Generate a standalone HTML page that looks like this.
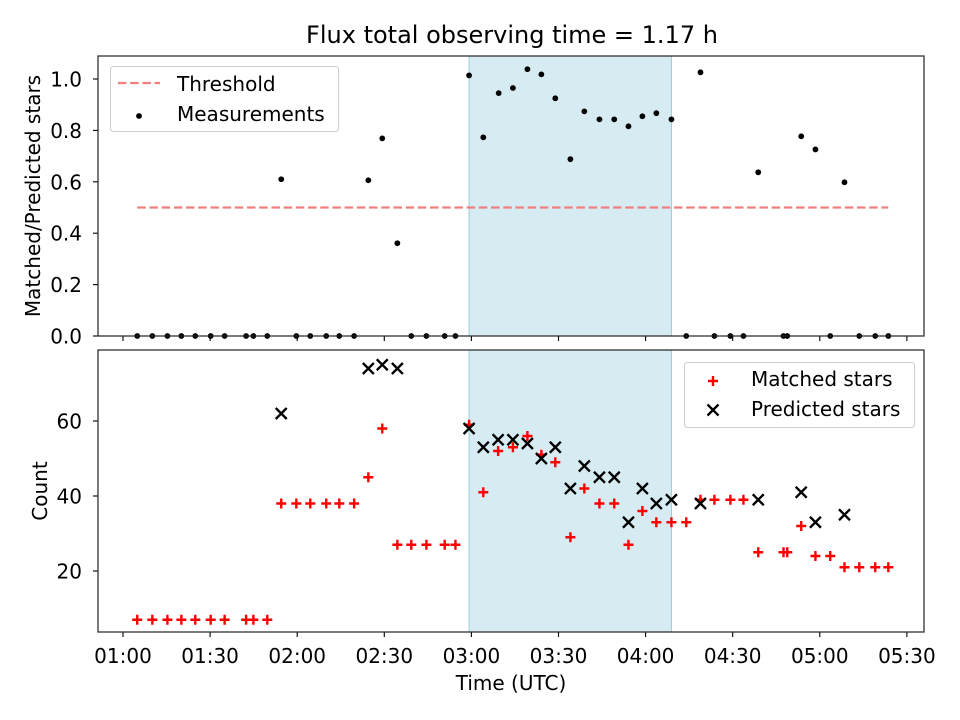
<!DOCTYPE html>
<html><head><meta charset="utf-8"><style>
body{margin:0;background:#fff}
svg{display:block;font-family:"DejaVu Sans","Liberation Sans",sans-serif}
</style></head><body>
<svg id="chart" width="960" height="720" viewBox="0 0 960 720">
<rect width="960" height="720" fill="#fff"/>
<text x="512" y="43" font-size="24" text-anchor="middle">Flux total observing time = 1.17 h</text>
<g id="gtop"></g><g id="gbot"></g>
<text transform="translate(40,196) rotate(-90)" font-size="20" text-anchor="middle">Matched/Predicted stars</text>
<text transform="translate(47,491) rotate(-90)" font-size="20" text-anchor="middle">Count</text>
<text x="511" y="690" font-size="20" text-anchor="middle">Time (UTC)</text>
</svg>
<script>
// minutes since 01:00 UTC
const ratioTimes=[4.9,10.1,15.3,20.1,24.9,30.2,35.0,42.4,44.9,49.7,54.5,59.7,64.5,70.0,74.5,79.6,84.5,89.3,94.5,99.3,104.5,110.8,114.5,119.2,124.1,129.4,134.3,139.3,144.1,148.9,154.1,158.9,164.1,169.2,174.1,178.9,183.7,188.9,194.0,198.9,203.7,209.2,213.7,218.8,227.5,228.8,233.6,238.5,243.6,248.5,253.6,259.1,263.6];
const ratioValues=[0,0,0,0,0,0,0,0,0,0,0.61,0,0,0,0,0,0.606,0.769,0.361,0,0,0,0,1.014,0.773,0.945,0.965,1.038,1.018,0.925,0.688,0.874,0.843,0.843,0.816,0.855,0.867,0.843,0,1.026,0,0,0,0.637,0,0,0.777,0.726,0,0.598,0,0,0];
const matchedTimes=[4.9,10.1,15.3,20.1,24.9,30.2,35.0,42.4,44.9,49.7,54.5,59.7,64.5,70.0,74.5,79.6,84.5,89.3,94.5,99.3,104.5,110.8,114.5,119.2,124.1,129.2,134.3,139.3,144.1,148.9,154.1,158.9,164.1,169.2,174.1,178.9,183.7,188.9,194.0,198.9,203.7,209.2,213.7,218.8,227.5,228.8,233.6,238.5,243.6,248.5,253.6,259.1,263.6];
const matchedValues=[7,7,7,7,7,7,7,7,7,7,38,38,38,38,38,38,45,58,27,27,27,27,27,59,41,52,53,56,51,49,29,42,38,38,27,36,33,33,33,39,39,39,39,25,25,25,32,24,24,21,21,21,21];
const predTimes=[54.5,84.5,89.3,94.5,119.2,124.1,129.2,134.3,139.3,144.1,148.9,154.1,158.9,164.1,169.2,174.1,178.9,183.7,188.9,198.9,218.8,233.6,238.5,248.5];
const predValues=[62,74,75,74,58,53,55,55,54,50,53,42,48,45,45,33,42,38,39,38,39,41,33,35];
const spanStartEnd=[119.2,188.9];
const threshold=0.5;
const thresholdRange=[4.9,263.6];
const xTickLabels=["01:00","01:30","02:00","02:30","03:00","03:30","04:00","04:30","05:00","05:30"];
const topYTicks=[0,0.2,0.4,0.6,0.8,1.0];
const botYTicks=[20,40,60];

const NS="http://www.w3.org/2000/svg";
const L=98,R=924,T1=56,B1=336,T2=350,B2=632;
const FS=20;
const x=m=>123+m*2.9033;
const yTop=v=>336-v*257;
const yBot=v=>571-(v-20)*3.75;
function el(tag,attrs,parent,txt){const e=document.createElementNS(NS,tag);for(const k in attrs)e.setAttribute(k,attrs[k]);if(txt!==undefined)e.textContent=txt;parent.appendChild(e);return e;}
const gTop=document.getElementById('gtop'),gBot=document.getElementById('gbot');

function frame(g,T,B,name){
  const sp=el('rect',{x:x(spanStartEnd[0]),y:T,width:x(spanStartEnd[1])-x(spanStartEnd[0]),height:B-T,fill:'#add8e6','fill-opacity':0.5,stroke:'#9ccbdb','stroke-width':1},g);
  
  
  xTickLabels.forEach((lab,i)=>{const px=x(i*30);
    el('line',{x1:px,x2:px,y1:B,y2:B+5,stroke:'#000','stroke-width':1.1},g);
    if(name==='bottom'){const t=el('text',{x:px,y:B+31,'font-size':FS,'text-anchor':'middle'},g,lab);
      
      }
  });
}
frame(gTop,T1,B1,'top');frame(gBot,T2,B2,'bottom');

const th=el('line',{x1:x(thresholdRange[0]),x2:x(thresholdRange[1]),y1:yTop(threshold),y2:yTop(threshold),stroke:'#f08080','stroke-width':2.3,'stroke-dasharray':'8.5,3.7'},gTop);


ratioTimes.forEach((t,i)=>{const c=el('circle',{cx:x(t),cy:yTop(ratioValues[i]),r:2.9,fill:'#000'},gTop);
  
  });
topYTicks.forEach(v=>{const py=yTop(v);el('line',{x1:L-5,x2:L,y1:py,y2:py,stroke:'#000','stroke-width':1.1},gTop);
  const t=el('text',{x:L-16,y:py+7.5,'font-size':FS,'text-anchor':'end'},gTop,v.toFixed(1));
  
  });

function plus(g,cx,cy){return el('path',{d:`M${cx-5},${cy}H${cx+5}M${cx},${cy-5}V${cy+5}`,stroke:'#f00','stroke-width':2.4,fill:'none'},g);}
function cross(g,cx,cy){return el('path',{d:`M${cx-5.5},${cy-5.5}L${cx+5.5},${cy+5.5}M${cx-5.5},${cy+5.5}L${cx+5.5},${cy-5.5}`,stroke:'#000','stroke-width':2.3,fill:'none'},g);}
matchedTimes.forEach((t,i)=>{const p=plus(gBot,x(t),yBot(matchedValues[i]));
  
  });
predTimes.forEach((t,i)=>{const p=cross(gBot,x(t),yBot(predValues[i]));
  
  });
botYTicks.forEach(v=>{const py=yBot(v);el('line',{x1:L-5,x2:L,y1:py,y2:py,stroke:'#000','stroke-width':1.1},gBot);
  const t=el('text',{x:L-16,y:py+7.5,'font-size':FS,'text-anchor':'end'},gBot,String(v));
  
  });

el('rect',{x:L,y:T1,width:R-L,height:B1-T1,fill:'none',stroke:'#222','stroke-width':1.2},gTop);
el('rect',{x:L,y:T2,width:R-L,height:B2-T2,fill:'none',stroke:'#222','stroke-width':1.2},gBot);

const lg1=el('g',{},gTop);


el('rect',{x:110.5,y:66.5,width:228,height:65,rx:3,fill:'#fff','fill-opacity':0.8,stroke:'#ccc'},lg1);
el('line',{x1:118,x2:160,y1:83,y2:83,stroke:'#f08080','stroke-width':2.3,'stroke-dasharray':'8.5,3.7'},lg1);
el('text',{x:177,y:91,'font-size':FS},lg1,'Threshold');
el('circle',{cx:139,cy:116,r:2.9,fill:'#000'},lg1);
el('text',{x:177,y:121,'font-size':FS},lg1,'Measurements');
const lg2=el('g',{},gBot);


el('rect',{x:684.5,y:362.5,width:230,height:65,rx:3,fill:'#fff','fill-opacity':0.8,stroke:'#ccc'},lg2);
plus(lg2,713,381);
el('text',{x:751,y:386,'font-size':FS},lg2,'Matched stars');
cross(lg2,713,410);
el('text',{x:751,y:416,'font-size':FS},lg2,'Predicted stars');
</script>
</body></html>
